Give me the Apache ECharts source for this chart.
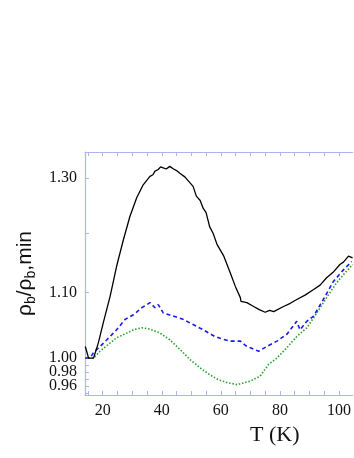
<!doctype html>
<html>
<head>
<meta charset="utf-8">
<title></title>
<script src="https://cdn.jsdelivr.net/npm/echarts@6/dist/echarts.min.js"></script>
<style>
  html, body { margin: 0; padding: 0; background: #fff; }
</style>
</head>
<body>
<div id="chart" style="width: 354px; height: 458px;"></div>
<script>
// temperature (K) and normalised resistivity for each curve
var tBlack = [14.1,15.2,16.9,18.5,20.2,22.5,24.7,27.0,29.2,31.5,33.7,36.0,37.0,37.7,38.8,39.6,40.5,41.5,42.7,44.0,45.0,46.1,47.8,49.5,50.6,51.7,53.0,54.0,55.0,56.2,57.4,58.7,61.0,63.2,64.9,66.6,66.8,68.8,71.1,73.0,75.0,76.5,77.9,81.2,83.5,85.7,88.5,91.4,93.6,95.8,98.0,100.3,101.5,103.2,104.6];
var black = [1.017,1.000,1.000,1.022,1.053,1.094,1.143,1.188,1.229,1.263,1.287,1.303,1.306,1.313,1.316,1.321,1.319,1.317,1.322,1.317,1.314,1.309,1.302,1.291,1.284,1.266,1.258,1.244,1.236,1.211,1.199,1.180,1.160,1.132,1.110,1.092,1.086,1.084,1.078,1.073,1.069,1.072,1.070,1.078,1.083,1.089,1.096,1.105,1.112,1.124,1.133,1.146,1.150,1.160,1.157];

var tBlue = [14.1,15.7,16.9,19.1,21.4,24.7,27.6,30.4,33.2,36.0,37.7,38.8,40.5,43.9,47.2,50.6,54.0,57.9,60.5,63.2,66.6,68.5,70.0,72.8,75.6,79.0,82.3,85.7,86.8,89.1,91.4,94.7,98.1,101.5,104.3];
var blue = [1.000,1.000,1.008,1.017,1.027,1.042,1.058,1.065,1.076,1.084,1.076,1.081,1.068,1.063,1.058,1.050,1.042,1.032,1.028,1.025,1.025,1.018,1.015,1.010,1.017,1.025,1.035,1.055,1.042,1.055,1.063,1.089,1.118,1.137,1.151];

var tGreen = [14.1,16.9,19.1,21.9,24.7,28.1,30.4,33.2,36.0,39.4,42.7,46.1,49.5,52.9,56.2,59.1,62.1,65.5,70.0,73.3,76.2,79.0,82.3,85.7,89.1,92.5,95.8,99.2,102.0,104.6];
var green = [1.000,1.000,1.010,1.020,1.030,1.037,1.042,1.045,1.043,1.037,1.027,1.013,0.998,0.986,0.976,0.969,0.965,0.962,0.967,0.974,0.991,1.000,1.015,1.032,1.045,1.068,1.092,1.116,1.132,1.146];

var xTicks = [15,20,25,30,35,40,45,50,55,60,65,70,75,80,85,90,95,100];
var xLabels = [20,40,60,80,100];
var yTicks = [0.95,0.96,0.97,0.98,0.99,1.00,1.10,1.20,1.30];
// labels split over two overlaid axes so the close ones are not auto-hidden
var yLabelsA = [0.96,1.00,1.30];
var yLabelsB = [0.98,1.10];

// y axis is logarithmic: plot log10 values on a value axis
function lg(v) { return Math.log10(v); }
function pairs(t, v) {
    return t.map(function (x, i) { return [x, lg(v[i])]; });
}

var axisColor = '#aeb3f2';
var serif = 'Liberation Serif';
var yMin = lg(0.9476), yMax = lg(1.350);

function yLabelStyle(vals) {
    return {
        customValues: vals.map(lg), hideOverlap: false,
        fontFamily: serif, fontSize: 16, color: '#111', margin: 8,
        formatter: function (v) { return Math.pow(10, v).toFixed(2); }
    };
}

var myChart = echarts.init(document.getElementById('chart'));
var option = {
    animation: false,
    backgroundColor: '#fff',
    grid: {left: 85, right: 0, top: 152, bottom: 63},
    xAxis: [
        {
            type: 'value', position: 'bottom', min: 14, max: 104.6,
            name: 'T (K)', nameLocation: 'middle', nameGap: 27,
            nameTextStyle: {fontFamily: serif, fontSize: 22, color: '#111', padding: [0, 0, 0, 112]},
            splitLine: {show: false},
            axisLine: {onZero: false, lineStyle: {color: axisColor, width: 1.2}},
            axisTick: {inside: true, length: 4, customValues: xTicks, lineStyle: {color: axisColor}},
            axisLabel: {customValues: xLabels, fontFamily: serif, fontSize: 16, color: '#111', margin: 8}
        },
        {
            type: 'value', position: 'top', min: 14, max: 104.6,
            splitLine: {show: false},
            axisLine: {onZero: false, lineStyle: {color: axisColor, width: 1.2}},
            axisTick: {inside: true, length: 4, customValues: xTicks, lineStyle: {color: axisColor}},
            axisLabel: {show: false}
        }
    ],
    yAxis: [
        {
            type: 'value', position: 'left', min: yMin, max: yMax,
            name: '{r|ρ}{s|b}{r|/ρ}{s|b}{r|,min}',
            nameLocation: 'middle', nameRotate: 90, nameGap: 42,
            nameTextStyle: {
                fontFamily: 'Liberation Sans', color: '#111',
                rich: {
                    r: {fontFamily: 'Liberation Sans', fontSize: 21, lineHeight: 26, color: '#111'},
                    s: {fontFamily: 'Liberation Sans', fontSize: 14, lineHeight: 14, verticalAlign: 'bottom', color: '#111'}
                }
            },
            splitLine: {show: false},
            axisLine: {onZero: false, lineStyle: {color: axisColor, width: 1.2}},
            axisTick: {inside: true, length: 4, customValues: yTicks.map(lg), lineStyle: {color: axisColor}},
            axisLabel: yLabelStyle(yLabelsA)
        },
        {
            type: 'value', position: 'left', offset: 0, min: yMin, max: yMax,
            splitLine: {show: false},
            axisLine: {show: false, onZero: false},
            axisTick: {show: false},
            axisLabel: yLabelStyle(yLabelsB)
        }
    ],
    series: [
        {
            type: 'line', data: pairs(tGreen, green), showSymbol: false,
            lineStyle: {color: '#26a026', width: 1.6, type: [1.5, 1.8]}
        },
        {
            type: 'line', data: pairs(tBlue, blue), showSymbol: false,
            lineStyle: {color: '#1a1ae6', width: 1.6, type: [4, 3]}
        },
        {
            type: 'line', data: pairs(tBlack, black), showSymbol: false,
            lineStyle: {color: '#000', width: 1.3}
        }
    ]
};
myChart.setOption(option);
</script>
</body>
</html>
